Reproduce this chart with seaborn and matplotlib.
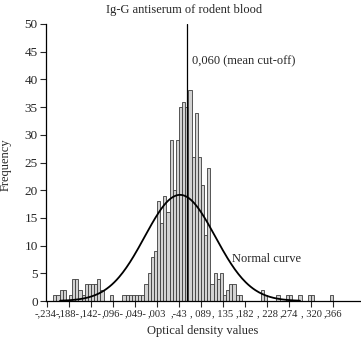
import numpy as np
import pandas as pd
import matplotlib
matplotlib.use("Agg")
import matplotlib.pyplot as plt
import seaborn as sns

# histogram counts, one per bin, from -0.234 upward
bin_start = -0.234
bin_width = 0.04615 / 7
counts = [0, 0, 1, 1, 2, 2, 0, 1, 4, 4,
          2, 1, 3, 3, 3, 3, 4, 2, 0, 0,
          1, 0, 0, 0, 1, 1, 1, 1, 1, 1,
          1, 3, 5, 8, 9, 18, 14, 19, 16, 29,
          20, 29, 35, 36, 35, 38, 26, 34, 26, 21,
          12, 24, 3, 5, 4, 5, 1, 2, 3, 3,
          1, 1, 0, 0, 0, 0, 0, 0, 2, 1,
          0, 0, 0, 1, 0, 0, 1, 1, 0, 0,
          1, 0, 0, 1, 1, 0, 0, 0, 0, 0,
          1]

tick_values = [-0.234, -0.188, -0.142, -0.096, -0.049, -0.003, 0.043,
               0.089, 0.135, 0.182, 0.228, 0.274, 0.320, 0.366]
tick_labels = ["-,234-", ",188-", ",142-", ",096-", ",049-", ",003", ",-43",
               ", 089", ", 135", ",182", ", 228", ",274", ", 320", ",366"]

cutoff = 0.060
curve_mean = 0.045
curve_sd = 0.074

edges = [bin_start + bin_width * i for i in range(len(counts) + 1)]
df = pd.DataFrame({"od": [e + bin_width / 2 for e in edges[:-1]], "n": counts})

sns.set_style("white")
plt.rcParams["font.family"] = ["Liberation Serif", "DejaVu Serif"]

fig = plt.figure(figsize=(3.61, 3.41), dpi=100)
ax = fig.add_axes([46 / 361, 1 - 301 / 341, 314 / 361, 277 / 341])

sns.histplot(data=df, x="od", weights="n", bins=edges, ax=ax,
             color="#d2d2d2", edgecolor="#3c3c3c", linewidth=0.6, alpha=1)

# normal curve scaled to the counts
xs = np.linspace(curve_mean - 3.4 * curve_sd, curve_mean + 3.4 * curve_sd, 200)
scale = sum(counts) * bin_width
ys = scale * np.exp(-0.5 * ((xs - curve_mean) / curve_sd) ** 2) / (curve_sd * np.sqrt(2 * np.pi))
sns.lineplot(x=xs, y=ys, ax=ax, color="black", linewidth=1.3)

ax.plot([cutoff, cutoff], [0, 50], color="black", linewidth=0.9)

ax.set_xlim(-0.2361, 0.4226)
ax.set_ylim(0, 50)
ax.set_yticks(range(0, 51, 5))
ax.set_xticks(tick_values)
ax.set_xticklabels(tick_labels, fontsize=7.6)
ax.tick_params(axis="y", labelsize=9.5, length=4, width=0.8, direction="out", left=True, pad=2)
ax.tick_params(axis="x", length=4, width=0.8, direction="out", bottom=True, pad=2)
ax.set_xlabel("")
ax.set_ylabel("")
for s in ["top", "right"]:
    ax.spines[s].set_visible(False)
for s in ["left", "bottom"]:
    ax.spines[s].set_color("black")
    ax.spines[s].set_linewidth(0.9)

ax.text(0.071, 43.2, "0,060 (mean cut-off)", fontsize=9, va="center")
ax.text(0.155, 7.5, "Normal curve", fontsize=9, va="center")

fig.text(184 / 361, 1 - 10 / 341, "Ig-G antiserum of rodent blood", fontsize=9, ha="center", va="center")
fig.text(203 / 361, 1 - 331 / 341, "Optical density values", fontsize=9, ha="center", va="center")
fig.text(5.5 / 361, 1 - 165 / 341, "Frequency", fontsize=9, ha="center", va="center", rotation=90)

fig.savefig("out.png", dpi=100)
